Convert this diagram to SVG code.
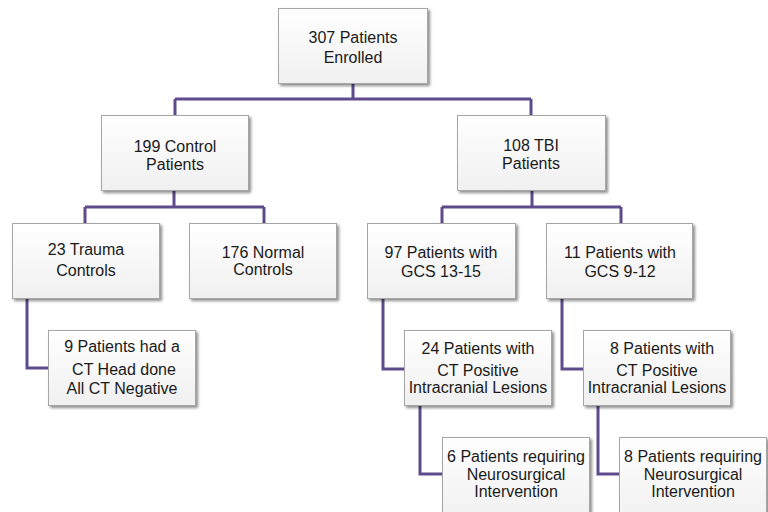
<svg xmlns="http://www.w3.org/2000/svg" width="768" height="512" viewBox="0 0 768 512">
<defs>
<linearGradient id="g" x1="0" y1="0" x2="0" y2="1">
<stop offset="0" stop-color="#ffffff"/>
<stop offset="1" stop-color="#f0f0f0"/>
</linearGradient>
<filter id="sh" x="-10%" y="-10%" width="130%" height="140%">
<feGaussianBlur in="SourceAlpha" stdDeviation="1.5"/>
<feOffset dx="1.5" dy="2" result="b"/>
<feComponentTransfer><feFuncA type="linear" slope="0.45"/></feComponentTransfer>
<feMerge><feMergeNode/><feMergeNode in="SourceGraphic"/></feMerge>
</filter>
</defs>
<style>
.box{fill:url(#g);stroke:#a6a6a6;stroke-width:1;filter:url(#sh)}
.t{font-family:"Liberation Sans",Arial,sans-serif;font-size:16px;fill:#1a1a1a;text-anchor:middle}
.c{fill:none;stroke:#5f4b8b;stroke-width:3}
</style>
<rect width="768" height="512" fill="#ffffff"/>
<g id="connectors">
<path class="c" d="M353 83V99M175 99H531M175 99V115M531 99V115"/>
<path class="c" d="M174 191V207M85 207H264M85 207V223M264 207V223"/>
<path class="c" d="M532 191V207M442 207H621M442 207V223M621 207V223"/>
<path class="c" d="M27 298V368H48"/>
<path class="c" d="M383 298V369H404"/>
<path class="c" d="M562 298V369H583"/>
<path class="c" d="M420 405V474H442"/>
<path class="c" d="M598 405V474H619"/>
</g>
<g id="n307">
<rect class="box" x="278.5" y="8.5" width="149" height="75"/>
<text class="t" x="353" y="43">307 Patients</text>
<text class="t" x="353" y="63">Enrolled</text>
</g>
<g id="n199">
<rect class="box" x="101.5" y="115.5" width="147" height="75"/>
<text class="t" x="175" y="152">199 Control</text>
<text class="t" x="175" y="170">Patients</text>
</g>
<g id="n108">
<rect class="box" x="457.5" y="115.5" width="148" height="75"/>
<text class="t" x="531" y="151">108 TBI</text>
<text class="t" x="531" y="169">Patients</text>
</g>
<g id="n23">
<rect class="box" x="12.5" y="223.5" width="147" height="75"/>
<text class="t" x="86" y="255">23 Trauma</text>
<text class="t" x="86" y="276">Controls</text>
</g>
<g id="n176">
<rect class="box" x="189.5" y="223.5" width="147" height="75"/>
<text class="t" x="263" y="258">176 Normal</text>
<text class="t" x="263" y="275">Controls</text>
</g>
<g id="n97">
<rect class="box" x="367.5" y="223.5" width="148" height="75"/>
<text class="t" x="441" y="258">97 Patients with</text>
<text class="t" x="441" y="277">GCS 13-15</text>
</g>
<g id="n11">
<rect class="box" x="546.5" y="223.5" width="146" height="75"/>
<text class="t" x="620" y="258">11 Patients with</text>
<text class="t" x="620" y="277">GCS 9-12</text>
</g>
<g id="n9">
<rect class="box" x="48.5" y="330.5" width="147" height="75"/>
<text class="t" x="122" y="352">9 Patients had a</text>
<text class="t" x="124" y="375">CT Head done</text>
<text class="t" x="122" y="394">All CT Negative</text>
</g>
<g id="n24">
<rect class="box" x="404.5" y="330.5" width="147" height="75"/>
<text class="t" x="478" y="354">24 Patients with</text>
<text class="t" x="478" y="376">CT Positive</text>
<text class="t" x="478" y="393">Intracranial Lesions</text>
</g>
<g id="n8a">
<rect class="box" x="583.5" y="330.5" width="147" height="75"/>
<text class="t" x="662" y="354">8 Patients with</text>
<text class="t" x="657" y="376">CT Positive</text>
<text class="t" x="657" y="393">Intracranial Lesions</text>
</g>
<g id="n6">
<rect class="box" x="442.5" y="437.5" width="147" height="85"/>
<text class="t" x="516" y="462">6 Patients requiring</text>
<text class="t" x="516" y="480">Neurosurgical</text>
<text class="t" x="516" y="497">Intervention</text>
</g>
<g id="n8b">
<rect class="box" x="619.5" y="437.5" width="147" height="85"/>
<text class="t" x="693" y="462">8 Patients requiring</text>
<text class="t" x="693" y="480">Neurosurgical</text>
<text class="t" x="693" y="497">Intervention</text>
</g>
</svg>
